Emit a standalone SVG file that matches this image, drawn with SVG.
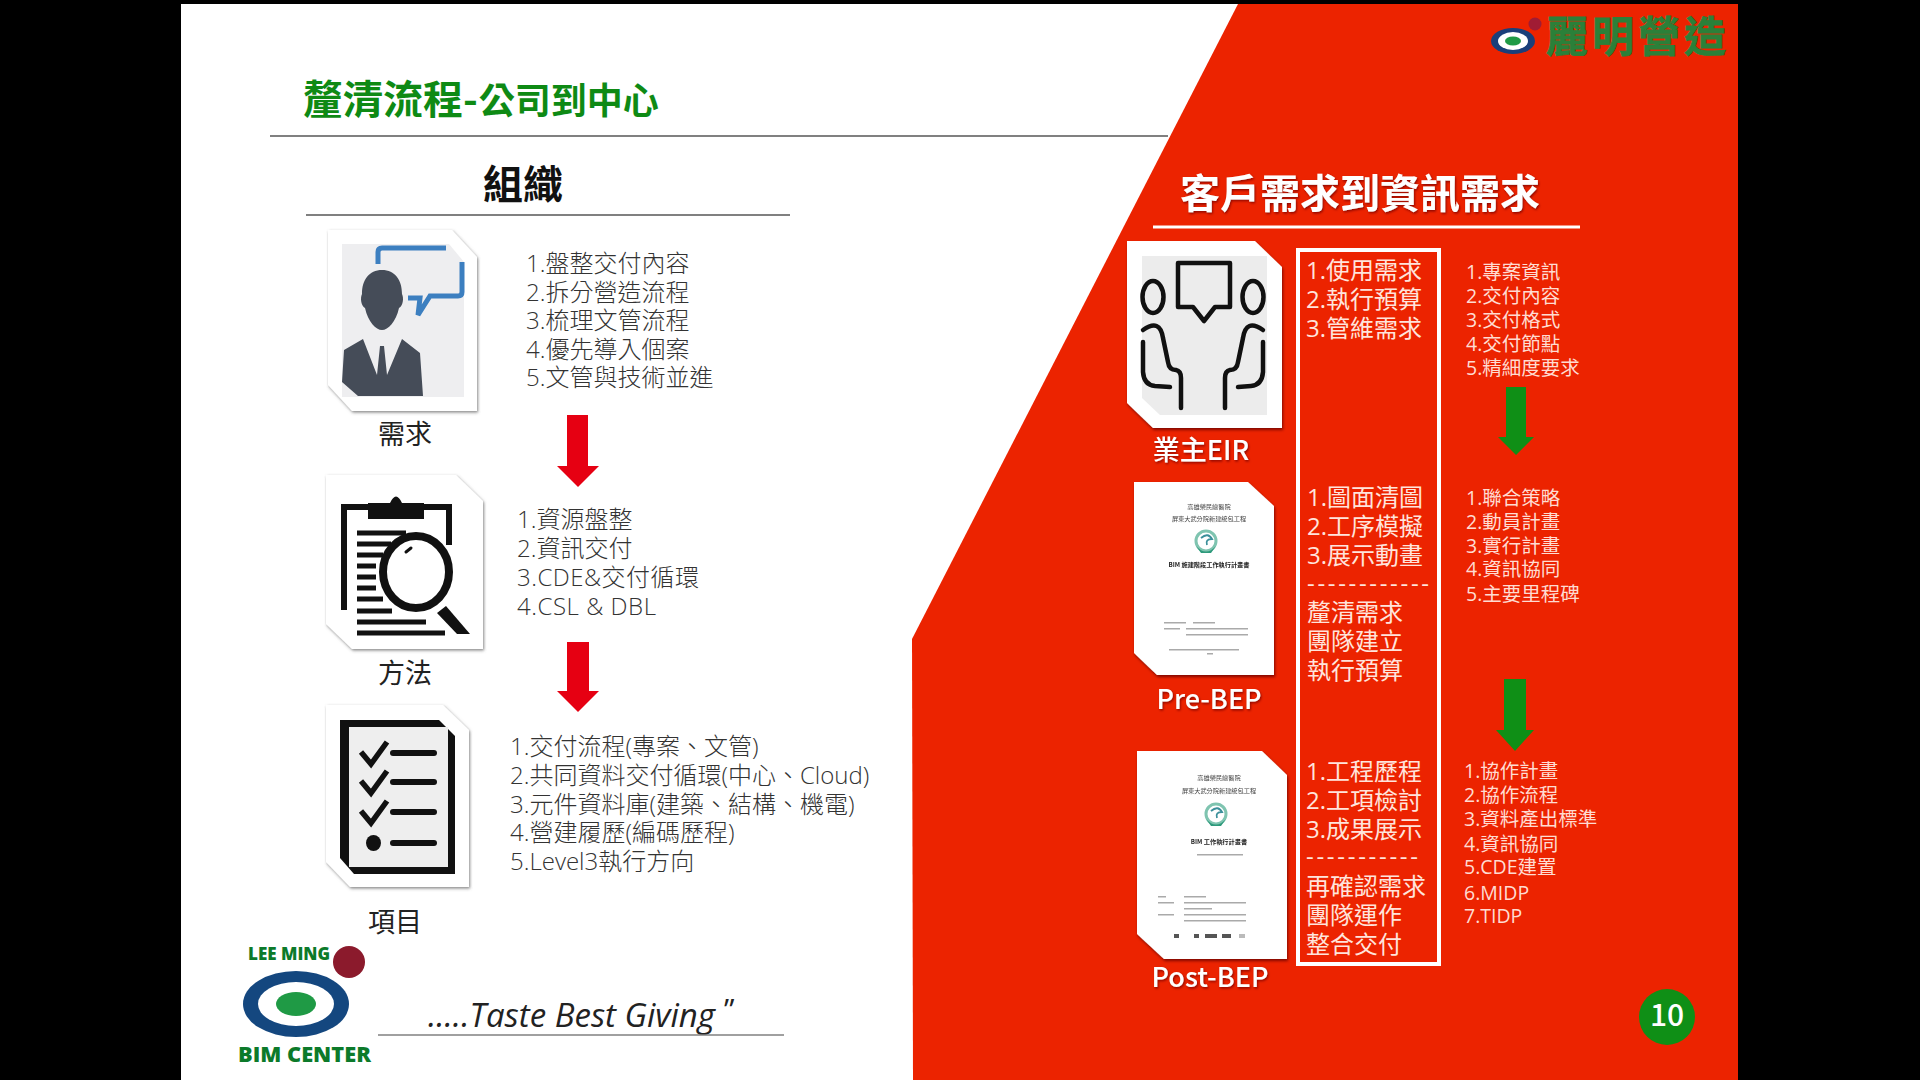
<svg xmlns="http://www.w3.org/2000/svg" width="1920" height="1080" viewBox="0 0 1920 1080">
<defs>
<style>
text{font-family:"Noto Sans CJK TC","Noto Sans",sans-serif}
.title{font-size:40px;font-weight:700;fill:#0e8a14}
.h1{font-size:40px;font-weight:700;fill:#111}
.body{font-size:24px;font-weight:300;fill:#333;font-family:"Open Sans","Noto Sans CJK TC",sans-serif}
.lab{font-size:27px;fill:#222}
.rh{font-size:40px;font-weight:700;fill:#fff}
.rl{font-size:27px;font-weight:500;fill:#fff}
.rb{font-size:24px;font-weight:400;fill:#ffe4dc;font-family:"Open Sans","Noto Sans CJK TC",sans-serif}
.rs{font-size:19.5px;font-weight:400;fill:#ffdcd2;font-family:"Open Sans","Noto Sans CJK TC",sans-serif}
.doc{font-size:6.2px;fill:#444}
.docb{font-size:6.2px;fill:#222;font-weight:700}
.bar{fill:#aaa}
.card{fill:#fff;filter:url(#sh)}
.cardr{fill:#fff;filter:url(#shr)}
.ra{fill:#e60012}
.ga{fill:#0f8f16}
.k{fill:none;stroke:#111;stroke-width:4.5;stroke-linecap:round;stroke-linejoin:round}
.rule{stroke:#808080;stroke-width:2}
.bimt{font-family:"Open Sans",sans-serif;font-weight:800;fill:#0c7a2a}
</style>
<filter id="sh" x="-10%" y="-10%" width="120%" height="120%"><feDropShadow dx="1" dy="1.5" stdDeviation="1.5" flood-color="#555" flood-opacity=".7"/></filter>
<filter id="shr" x="-10%" y="-10%" width="120%" height="120%"><feDropShadow dx="1" dy="2" stdDeviation="1.5" flood-color="#600" flood-opacity=".8"/></filter>
<filter id="ts" x="-5%" y="-10%" width="110%" height="125%"><feDropShadow dx="1" dy="1.5" stdDeviation=".8" flood-color="#700" flood-opacity=".8"/></filter>
<filter id="soft" x="-5%" y="-5%" width="110%" height="110%"><feGaussianBlur stdDeviation=".35"/></filter>
<g id="emb"><circle r="10" fill="none" stroke="#7fc4b0" stroke-width="3"/><path d="M-10,5 Q0,16 10,5 L5,12 L-5,12Z" fill="#2f9a7c"/><path d="M-5,-3 Q2,-9 6,-2 Q-1,-2 1,4" fill="none" stroke="#3a8f9a" stroke-width="1.800"/></g>
</defs>

<rect width="1920" height="1080" fill="#000"/>
<rect x="181" y="4" width="1557" height="1076" fill="#fff"/>
<polygon points="1238,4 1738,4 1738,1080 913,1080 912,639" fill="#ec2300"/>

<g id="header">
<text class="title" x="303" y="114">釐清流程-<tspan dx="1" font-size="36">公司到中心</tspan></text>
<line class="rule" x1="270" y1="136" x2="1168" y2="136"/>
<text class="h1" x="483" y="199">組織</text>
<line class="rule" x1="306" y1="215" x2="790" y2="215"/>
</g>

<g id="node-need">
<polygon class="card" points="328,230 452,230 477,257 477,411 352,411 328,385"/>
<polygon points="342,244 449,244 464,262 464,397 342,397" fill="#eeeef0"/>
<path d="M378,264 V252 Q378,248 382,248 H446 M462,262 V292 Q462,296 458,296 H430 L418,315 L420,298 H408" fill="none" stroke="#3c7fc0" stroke-width="5"/>
<path d="M382,270 C369,270 362,280 362,294 C360,298 361,306 365,308 C368,322 376,330 382,330 C388,330 396,322 399,308 C403,306 404,298 402,294 C402,280 395,270 382,270Z" fill="#454c58"/>
<path d="M363,339 L344,350 L342,382 L358,396 H423 L420,353 L402,339 L387,375 L384,346 H380 L377,375Z" fill="#454c58"/>
<text class="lab" x="405" y="444" text-anchor="middle">需求</text>
<text class="body"><tspan x="526" y="272">1.盤整交付內容</tspan><tspan x="526" y="301">2.拆分營造流程</tspan><tspan x="526" y="329">3.梳理文管流程</tspan><tspan x="526" y="358">4.優先導入個案</tspan><tspan x="526" y="386">5.文管與技術並進</tspan></text>
</g>

<g id="node-method">
<polygon class="card" points="326,475 456,475 483,501 483,649 352,649 326,624"/>
<path d="M344,610 V507 H449 V545" fill="none" stroke="#111" stroke-width="6"/>
<path d="M368,519 V503 H390 Q396,490 402,503 H424 V519Z" fill="#111"/>
<g stroke="#111" stroke-width="5"><line x1="357" y1="533" x2="406" y2="533"/><line x1="357" y1="544" x2="391" y2="544"/><line x1="357" y1="555" x2="383" y2="555"/><line x1="357" y1="566" x2="376" y2="566"/><line x1="357" y1="577" x2="376" y2="577"/><line x1="357" y1="588" x2="376" y2="588"/><line x1="357" y1="599" x2="383" y2="599"/><line x1="357" y1="611" x2="392" y2="611"/><line x1="357" y1="622" x2="426" y2="622"/><line x1="357" y1="633" x2="445" y2="633"/></g>
<ellipse cx="416" cy="572" rx="33" ry="36" fill="#fff" stroke="#111" stroke-width="8"/>
<path d="M446,606 L470,634 H457 L437,613Z" fill="#111"/>
<line x1="406" y1="552" x2="411" y2="548" stroke="#111" stroke-width="3" stroke-linecap="round"/>
<text class="lab" x="405" y="683" text-anchor="middle">方法</text>
<text class="body"><tspan x="517" y="528">1.資源盤整</tspan><tspan x="517" y="557">2.資訊交付</tspan><tspan x="517" y="586" textLength="182">3.CDE&amp;交付循環</tspan><tspan x="517" y="615" textLength="139">4.CSL &amp; DBL</tspan></text>
</g>

<g id="node-project">
<polygon class="card" points="326,705 443,705 469,730 469,887 350,887 326,862"/>
<polygon points="340,720 439,720 455,736 455,874 354,874 340,858" fill="#111"/>
<polygon points="349,727 448,727 448,867 349,867" fill="#eee"/>
<g fill="none" stroke="#111" stroke-width="5.500"><path d="M361,752 L371,764 L387,742"/><path d="M361,781 L371,793 L387,771"/><path d="M361,811 L371,823 L387,801"/></g>
<g stroke="#111" stroke-width="6" stroke-linecap="round"><line x1="393" y1="753" x2="434" y2="753"/><line x1="393" y1="782" x2="434" y2="782"/><line x1="393" y1="812" x2="434" y2="812"/><line x1="393" y1="843" x2="434" y2="843"/></g>
<ellipse cx="373.500" cy="843" rx="7.500" ry="8" fill="#111"/>
<text class="lab" x="395" y="932" text-anchor="middle">項目</text>
<text class="body"><tspan x="510" y="755">1.交付流程(專案、文管)</tspan><tspan x="510" y="784">2.共同資料交付循環(中心、Cloud)</tspan><tspan x="510" y="813">3.元件資料庫(建築、結構、機電)</tspan><tspan x="510" y="841">4.營建履歷(編碼歷程)</tspan><tspan x="510" y="870">5.Level3執行方向</tspan></text>
</g>

<g id="connectors">
<polygon class="ra" points="567,415 588,415 588,466 599,466 578,487 557,466 567,466"/>
<polygon class="ra" points="567,642 589,642 589,691 599,691 578,712 557,691 567,691"/>
<polygon class="ga" points="1506,387 1526,387 1526,437 1534,437 1516,455 1498,437 1506,437"/>
<polygon class="ga" points="1504,679 1526,679 1526,730 1534,730 1515,751 1496,730 1504,730"/>
</g>

<g id="bim-logo">
<text class="bimt" x="248" y="960" font-size="17">LEE MING</text>
<circle cx="349" cy="962" r="16" fill="#8b1a2c"/>
<ellipse cx="296" cy="1004" rx="53" ry="33" fill="#14477f"/>
<ellipse cx="296" cy="1004" rx="38" ry="22" fill="#fff"/>
<ellipse cx="296" cy="1004" rx="20" ry="12" fill="#1f9a45"/>
<text class="bimt" x="238" y="1062" font-size="21.800">BIM CENTER</text>
<text x="428" y="1027" font-size="33" font-style="italic" fill="#222" style="font-family:'Open Sans',sans-serif">.....Taste Best Giving</text>
<text x="724" y="1020" font-size="30" fill="#222" style="font-family:'Open Sans',sans-serif">”</text>
<line x1="378" y1="1035" x2="784" y2="1035" stroke="#808080" stroke-width="1.500"/>
</g>

<g id="brand-logo">
<ellipse cx="1513" cy="41" rx="22" ry="13" fill="#1a3f7a"/>
<ellipse cx="1513" cy="41" rx="15" ry="9" fill="#fff"/>
<ellipse cx="1513" cy="41" rx="8" ry="4.500" fill="#1f9a45"/>
<circle cx="1535" cy="24" r="6.500" fill="#a01c34"/>
<text x="1546" y="52" font-size="42" letter-spacing="4" font-weight="700" fill="#2b8039" stroke="#2b8039" stroke-width=".8">麗明營造</text>
</g>

<g id="right-header">
<text class="rh" x="1180" y="208" filter="url(#ts)">客戶需求到資訊需求</text>
<line x1="1153" y1="227" x2="1580" y2="227" stroke="#fff" stroke-width="3"/>
</g>

<g id="node-eir">
<polygon class="cardr" points="1127,241 1255,241 1282,267 1282,428 1153,428 1127,403"/>
<polygon points="1142,256 1267,256 1267,415 1160,415 1142,398" fill="#ececec"/>
<path class="k" d="M1178,263 H1230 V307 H1215 L1204,321 L1193,307 H1178Z"/>
<ellipse class="k" cx="1153" cy="297" rx="10.500" ry="16"/>
<ellipse class="k" cx="1253" cy="297" rx="10.500" ry="16"/>
<path class="k" d="M1143,330 Q1160,318 1163,338 L1168,362 Q1169,370 1176,370 Q1181,371 1181,378 V408"/>
<path class="k" d="M1143,342 V372 Q1144,385 1155,386 L1170,387"/>
<path class="k" d="M1263,330 Q1246,318 1243,338 L1238,362 Q1237,370 1230,370 Q1225,371 1225,378 V408"/>
<path class="k" d="M1263,342 V372 Q1262,385 1251,386 L1238,387"/>
<text class="rl" x="1201" y="460" text-anchor="middle" filter="url(#ts)">業主EIR</text>
</g>

<g id="node-prebep">
<polygon class="cardr" points="1134,482 1248,482 1274,506 1274,675 1157,675 1134,653"/>
<g filter="url(#soft)">
<text class="doc" x="1209" y="509" text-anchor="middle">高雄榮民總醫院</text>
<text class="doc" x="1209" y="521" text-anchor="middle">屏東大武分院新建統包工程</text>
<use href="#emb" x="1206" y="541"/>
<text class="docb" x="1209" y="567" text-anchor="middle">BIM 施建階段工作執行計畫書</text>
<g class="bar"><rect x="1164" y="622" width="22" height="1.500"/><rect x="1193" y="622" width="22" height="1.500"/><rect x="1164" y="628" width="16" height="1.500"/><rect x="1186" y="628" width="62" height="1.500"/><rect x="1186" y="634" width="62" height="1.500"/><rect x="1169" y="649" width="70" height="1.500"/><rect x="1207" y="653" width="6" height="1.500"/></g>
</g>
<text class="rl" x="1209" y="709" text-anchor="middle" filter="url(#ts)">Pre-BEP</text>
</g>

<g id="node-postbep">
<polygon class="cardr" points="1137,751 1262,751 1287,775 1287,959 1164,959 1137,934"/>
<g filter="url(#soft)">
<text class="doc" x="1219" y="780" text-anchor="middle">高雄榮民總醫院</text>
<text class="doc" x="1219" y="793" text-anchor="middle">屏東大武分院新建統包工程</text>
<use href="#emb" x="1216" y="814"/>
<text class="docb" x="1219" y="844" text-anchor="middle">BIM 工作執行計畫書</text>
<g class="bar"><rect x="1197" y="854" width="46" height="1.500"/><rect x="1158" y="896" width="8" height="1.500"/><rect x="1184" y="896" width="22" height="1.500"/><rect x="1158" y="902" width="16" height="1.500"/><rect x="1184" y="902" width="62" height="1.500"/><rect x="1184" y="908" width="28" height="1.500"/><rect x="1158" y="914" width="16" height="1.500"/><rect x="1184" y="914" width="62" height="1.500"/><rect x="1184" y="920" width="62" height="1.500"/></g>
<g fill="#555"><rect x="1174" y="934" width="5" height="4"/><rect x="1194" y="934" width="5" height="4"/><rect x="1205" y="934" width="12" height="4"/><rect x="1222" y="934" width="9" height="4"/><rect fill="#bbb" x="1239" y="934" width="6" height="4"/></g>
</g>
<text class="rl" x="1210" y="987" text-anchor="middle" filter="url(#ts)">Post-BEP</text>
</g>

<g id="node-needs-box">
<rect x="1298" y="250" width="141" height="714" fill="none" stroke="#fff" stroke-width="4"/>
<text class="rb"><tspan x="1306" y="279">1.使用需求</tspan><tspan x="1306" y="308">2.執行預算</tspan><tspan x="1306" y="337">3.管維需求</tspan></text>
<text class="rb"><tspan x="1307" y="506">1.圖面清圖</tspan><tspan x="1307" y="535">2.工序模擬</tspan><tspan x="1307" y="564">3.展示動畫</tspan></text>
<text class="rb" x="1307" y="592" textLength="122">------------</text>
<text class="rb"><tspan x="1307" y="621">釐清需求</tspan><tspan x="1307" y="650">團隊建立</tspan><tspan x="1307" y="679">執行預算</tspan></text>
<text class="rb"><tspan x="1306" y="780">1.工程歷程</tspan><tspan x="1306" y="809">2.工項檢討</tspan><tspan x="1306" y="838">3.成果展示</tspan></text>
<text class="rb" x="1306" y="865" textLength="112">-----------</text>
<text class="rb"><tspan x="1306" y="895">再確認需求</tspan><tspan x="1306" y="924">團隊運作</tspan><tspan x="1306" y="953">整合交付</tspan></text>
</g>

<g id="node-info-lists">
<text class="rs"><tspan x="1466" y="279">1.專案資訊</tspan><tspan x="1466" y="303">2.交付內容</tspan><tspan x="1466" y="327">3.交付格式</tspan><tspan x="1466" y="351">4.交付節點</tspan><tspan x="1466" y="375">5.精細度要求</tspan></text>
<text class="rs"><tspan x="1466" y="505">1.聯合策略</tspan><tspan x="1466" y="529">2.動員計畫</tspan><tspan x="1466" y="553">3.實行計畫</tspan><tspan x="1466" y="576">4.資訊協同</tspan><tspan x="1466" y="601">5.主要里程碑</tspan></text>
<text class="rs"><tspan x="1464" y="778">1.協作計畫</tspan><tspan x="1464" y="802">2.協作流程</tspan><tspan x="1464" y="826">3.資料產出標準</tspan><tspan x="1464" y="851">4.資訊協同</tspan><tspan x="1464" y="874">5.CDE建置</tspan><tspan x="1464" y="900">6.MIDP</tspan><tspan x="1464" y="923">7.TIDP</tspan></text>
</g>

<g id="page-number">
<circle cx="1667" cy="1017" r="28" fill="#0f8f16"/>
<text x="1667" y="1026" font-size="30" font-weight="500" fill="#fff" text-anchor="middle">10</text>
</g>
</svg>
